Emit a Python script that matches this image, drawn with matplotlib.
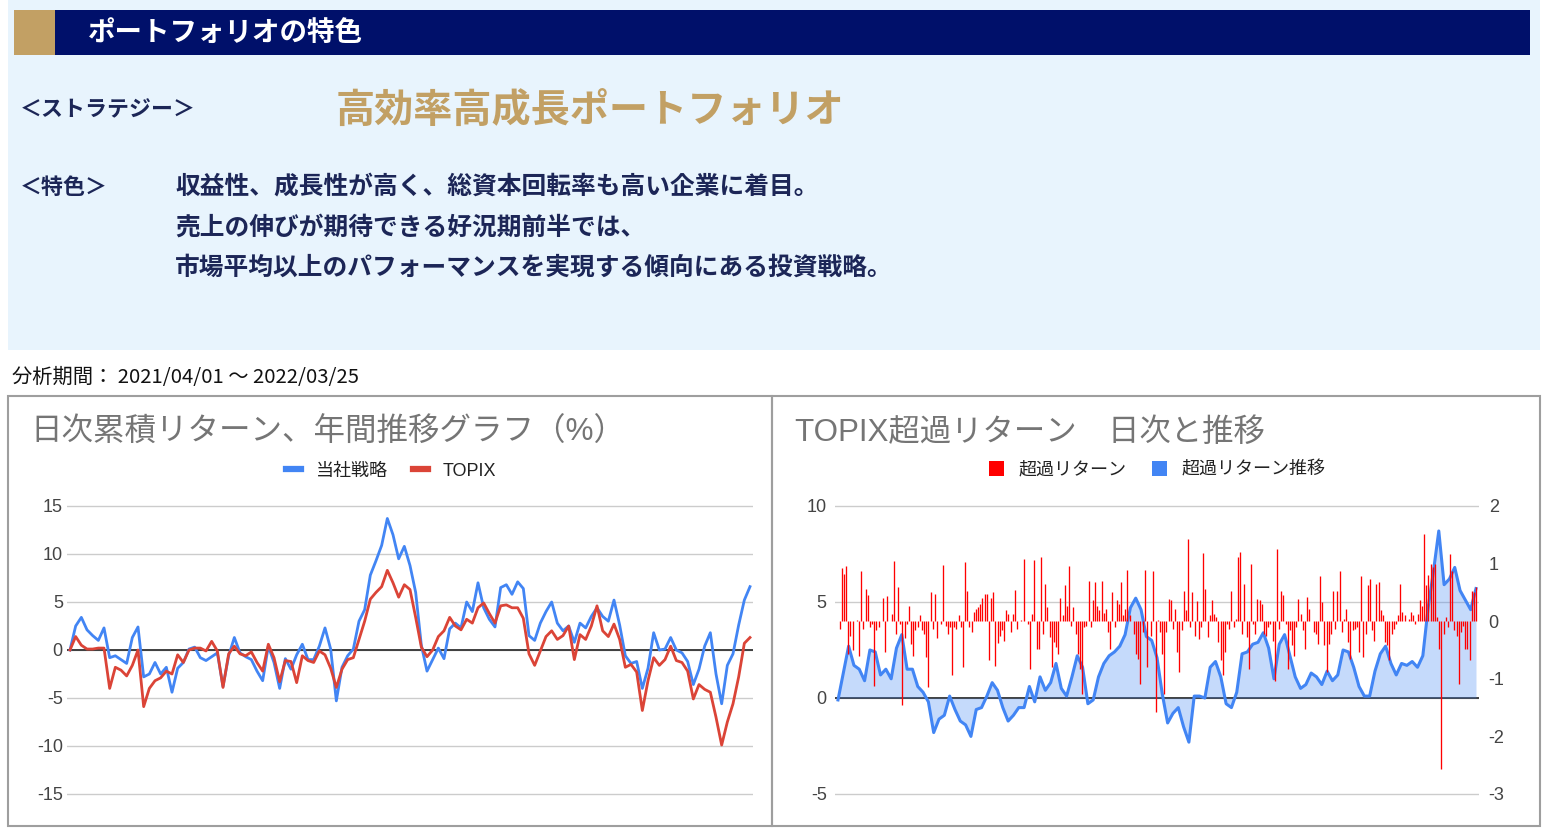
import numpy as np
import matplotlib.pyplot as plt
from matplotlib.patches import Rectangle, Patch
from matplotlib.lines import Line2D

plt.rcParams['font.family'] = ['Liberation Sans', 'Noto Sans CJK JP']
plt.rcParams['axes.unicode_minus'] = False

# ---- data ----
period = '2021/04/01 ～ 2022/03/25'

# cumulative daily return, %, sampled every 2nd trading day
strategy = [0.0, 2.5, 3.4, 2.1, 1.5, 1.0, 2.3, -0.8, -0.6, -1.0,
            -1.4, 1.3, 2.4, -2.8, -2.5, -1.3, -2.5, -1.8, -4.4, -1.9,
            -1.3, 0.1, 0.3, -0.8, -1.1, -0.7, -0.3, -3.8, -0.6, 1.3,
            -0.3, -0.7, -1.0, -2.2, -3.2, 0.4, -1.3, -4.0, -0.9, -2.0,
            -0.5, 0.6, -1.0, -1.0, 0.4, 2.3, 0.1, -5.3, -1.8, -0.6,
            0.1, 3.0, 4.2, 7.8, 9.3, 10.9, 13.7, 12.0, 9.5, 10.8,
            8.8, 6.0, 0.5, -2.2, -1.0, 0.2, -0.9, 2.2, 2.8, 2.3,
            5.0, 4.0, 7.0, 4.4, 3.2, 2.4, 6.5, 6.8, 5.8, 7.1,
            6.4, 1.5, 1.0, 2.8, 4.0, 5.0, 2.8, 2.0, 2.5, 0.8,
            2.8, 2.3, 3.5, 4.4, 3.5, 3.0, 5.2, 2.6, -0.6, -1.4,
            -1.2, -4.0, -1.9, 1.8, 0.0, 0.1, 1.3, 0.0, -0.3, -1.2,
            -3.6, -2.0, 0.4, 1.8, -2.5, -5.6, -1.6, -0.4, 2.6, 5.2,
            6.6]
topix = [0.0, 1.4, 0.5, 0.1, 0.1, 0.2, 0.2, -4.0, -1.8, -2.1,
         -2.7, -1.6, 0.0, -5.9, -4.0, -3.2, -2.9, -2.2, -2.5, -0.5,
         -1.3, 0.0, 0.2, 0.2, -0.1, 0.9, -0.1, -3.9, -0.4, 0.4,
         -0.4, -0.6, -0.2, -1.3, -2.2, 0.6, -0.8, -3.3, -1.1, -1.2,
         -3.4, -0.6, -1.1, -1.3, -0.1, -0.5, -1.9, -3.9, -2.0, -1.0,
         -0.8, 1.1, 3.0, 5.3, 6.0, 6.6, 8.3, 7.0, 5.5, 6.8,
         6.3, 3.4, 0.3, -0.7, 0.0, 1.4, 2.0, 3.4, 2.5, 2.1,
         3.2, 2.8, 4.4, 4.9, 3.8, 2.8, 4.6, 4.7, 4.4, 4.4,
         3.3, -0.4, -1.6, -0.1, 1.4, 2.0, 1.1, 1.5, 2.5, -1.0,
         1.6, 1.1, 2.5, 4.6, 2.0, 1.4, 2.7, 1.1, -1.8, -1.5,
         -2.3, -6.3, -3.2, -0.8, -1.6, -1.0, 0.4, -1.1, -1.3, -2.2,
         -5.1, -3.6, -4.1, -4.4, -7.0, -9.9, -7.5, -5.6, -2.8, 0.7,
         1.3]

# cumulative excess return vs TOPIX (left axis)
excess_cum = [-0.1, 1.3, 2.7, 1.7, 1.5, 0.9, 2.5, 2.4, 1.2, 1.5,
              1.0, 2.6, 3.3, 1.5, 1.5, 0.6, 0.3, -0.2, -1.8, -1.1,
              -0.9, 0.1, -0.6, -1.2, -1.4, -2.0, -0.6, -0.5, 0.1, 0.8,
              0.4, -0.5, -1.2, -0.9, -0.5, -0.5, 0.6, -0.2, 1.1, 0.4,
              0.8, 1.8, 0.5, 0.1, 1.1, 2.2, 1.6, -0.3, -0.1, 1.1,
              1.8, 2.2, 2.4, 2.7, 3.3, 4.7, 5.2, 4.6, 3.2, 3.0,
              2.1, 0.2, -1.3, -0.8, -0.5, -1.5, -2.3, 0.1, 0.1, 0.0,
              1.6, 1.9, 1.1, -0.3, -0.5, 0.3, 2.3, 2.4, 2.8, 2.9,
              3.4, 2.6, 1.0, 2.8, 3.3, 2.2, 1.1, 0.5, 0.7, 1.3,
              1.1, 0.7, 1.4, 0.9, 1.2, 2.5, 2.4, 1.6, 0.6, 0.1,
              0.1, 1.4, 2.3, 2.7, 1.8, 1.2, 1.8, 1.7, 1.9, 1.6,
              2.2, 4.7, 6.6, 8.7, 5.9, 6.2, 6.8, 5.6, 5.1, 4.6,
              5.7]

# daily excess return (right axis)
excess_daily = [
    -0.13, 0.92, 0.82, 0.95, -0.57, -0.25, -0.5, 0.01, 0.02, -0.6,
    0.88, -0.13, 0.56, 0.45, -0.1, -0.05, -1.12, -0.16, -0.1, 0.01,
    0.4, -0.54, 0.43, 0.01, 0.13, 1.05, -0.22, 0.59, -0.05, -1.46,
    -0.3, -0.05, 0.27, -0.39, -0.61, -0.16, -0.1, 0.1, -0.16, -0.22,
    -0.63, -1.15, 0.5, -0.13, 0.47, -0.3, 0.01, -0.05, 0.98, -0.08,
    -0.22, -0.1, -0.94, -0.1, -0.13, 0.1, -0.1, -0.8, 1.02, 0.52,
    -0.1, -0.19, 0.16, 0.21, 0.24, 0.3, 0.4, 0.48, 0.48, -0.68,
    0.4, 0.5, -0.77, -0.37, -0.25, -0.16, -0.34, 0.2, 0.13, -0.19,
    0.13, 0.54, -0.13, 0.01, 0.02, 1.08, 0.01, -0.05, -0.83, 0.13,
    1.06, -0.48, -0.48,
    1.11, -0.22, 0.65, 0.24, -0.28, -0.8, -0.36, -0.45, -0.57, 0.4,
    0.1, 0.62, 0.27, 0.95, -0.08, 0.24, -0.22, -0.57, -0.83, -1.26,
    -0.1, -0.08, 0.7, -0.1, 0.36, 0.68, 0.27, 0.19, 0.7, 0.14,
    0.21, -0.19, -0.48, 0.5, -0.1, 0.36, 0.3, 0.68, 0.1, 0.21,
    0.89, 0.1, 0.01, -0.22, -0.57, -0.65, -1.09, -0.19, 0.89, -0.8,
    0.01, -0.25, 0.87, -1.58, 0.02, -0.19, -0.57, -1.26, -0.19, 0.39,
    0.36, -0.13, 0.21, -0.54, -0.89, -0.16, 0.53, 0.2, 1.43, -0.1,
    0.5, -0.25, 0.35, -0.31, -0.1, 1.18, 0.56, -0.28, 0.1, 0.36,
    0.13, 0.07, -0.36, -0.68, -0.94, -0.54, -0.05, -0.13, 0.52, -0.1,
    0.04, 1.11, 1.2, -0.22, 0.65, -0.28, -0.83, 1.0, -0.05, -0.22,
    0.39, 0.36,
    0.3, -0.22, -0.25, -0.1, -0.05, -0.34, -1.03, 1.26, -0.13, 0.53,
    0.45, -0.05, -0.83, -0.16, -0.42, -0.6, -0.1, 0.39, 0.13, -0.16,
    -0.48, 0.42, 0.21, 0.01, -0.19, -0.22, -0.39, 0.79, 0.33, -0.42,
    -0.89, -0.39, -0.22, 0.52, -0.13, 0.53, 0.88, -0.19, 0.04, 0.21,
    -0.36, -0.65, -0.16, -0.13, -0.1, -0.54, 0.79, -0.63, -0.22, 0.62,
    0.73, -0.16, -0.34, 0.65, 0.68, 0.19, 0.1, -0.36, -0.42, -0.68,
    -0.22, -0.13, -0.05, 0.1, 0.64, 0.16, 0.1, 0.01, 0.04, 0.16,
    0.1, -0.05, 0.13, 0.36, 0.27, 1.52, 0.62, 0.81, 1.0, 0.94,
    1.0, 0.07, -0.48, -2.56, -0.22, 0.07, -0.1, 1.17, 0.88, -0.16,
    -0.25, -1.09, -0.19, -0.08, -0.48, -0.48, -0.68, 0.53, 0.5, 0.59]

left_ticks = [-15, -10, -5, 0, 5, 10, 15]
right_ticks_l = [-5, 0, 5, 10]
right_ticks_r = [-3, -2, -1, 0, 1, 2]

# ---- colours ----
BLUE = '#4285F4'
RED_LINE = '#DB4437'
RED_BAR = '#FF0000'
NAVY = '#00106A'
GOLD = '#C2A064'
TXT = '#1C2657'
PANEL = '#E8F4FD'
GREY_T = '#757575'
TICK = '#444444'

W, H = 1547, 833
fig = plt.figure(figsize=(W / 100, H / 100), dpi=100)


def fx(x):
    return x / W


def fy(y):
    return 1 - y / H


def rect_px(x0, y0, x1, y1, **kw):
    fig.patches.append(Rectangle((fx(x0), fy(y1)), (x1 - x0) / W, (y1 - y0) / H,
                                 transform=fig.transFigure, figure=fig, **kw))


def place(xp, yp, xd, yd, pad=3):
    # xp = (px of xd[0], px of xd[1]); yp = (px of yd[0], px of yd[1])
    sx = (xp[1] - xp[0]) / (xd[1] - xd[0])
    sy = (yp[0] - yp[1]) / (yd[1] - yd[0])
    x0, x1 = xp[0] - pad, xp[1] + pad
    y0, y1 = yp[1] - pad, yp[0] + pad
    ax = fig.add_axes([fx(x0), fy(y1), (x1 - x0) / W, (y1 - y0) / H])
    ax.set_xlim(xd[0] - pad / sx, xd[1] + pad / sx)
    ax.set_ylim(yd[0] - pad / sy, yd[1] + pad / sy)
    return ax, sy


# ---- top information panel ----
rect_px(8, 0, 1540, 350, facecolor=PANEL, edgecolor='none', zorder=0)
rect_px(14, 10, 1530, 55, facecolor=NAVY, edgecolor='none', zorder=1)
rect_px(14, 10, 55, 55, facecolor=GOLD, edgecolor='none', zorder=2)

jp = ['Noto Sans CJK JP', 'DejaVu Sans']
fig.text(fx(88), fy(33), 'ポートフォリオの特色', color='white', fontsize=19.8,
         fontweight='bold', family=jp, va='center', ha='left')
fig.text(fx(20), fy(110), '＜ストラテジー＞', color=TXT, fontsize=15.8,
         fontweight='bold', family=jp, va='center', ha='left')
fig.text(fx(336), fy(110), '高効率高成長ポートフォリオ', color=GOLD, fontsize=28.2,
         fontweight='bold', family=jp, va='center', ha='left')
fig.text(fx(20), fy(187), '＜特色＞', color=TXT, fontsize=15.8,
         fontweight='bold', family=jp, va='center', ha='left')
lines = ['収益性、成長性が高く、総資本回転率も高い企業に着目。',
         '売上の伸びが期待できる好況期前半では、',
         '市場平均以上のパフォーマンスを実現する傾向にある投資戦略。']
for t, yy in zip(lines, [187, 228, 268]):
    fig.text(fx(175), fy(yy), t, color=TXT, fontsize=17.8, fontweight='bold',
             family=jp, va='center', ha='left')

fig.text(fx(12), fy(377), '分析期間： ' + period, color='#111111', fontsize=14.6,
         family=jp, va='center', ha='left')

# chart frames
rect_px(8, 396, 772, 826, facecolor='none', edgecolor='#9E9E9E', lw=1.5)
rect_px(772, 396, 1540, 826, facecolor='none', edgecolor='#9E9E9E', lw=1.5)

# ---- left chart: cumulative return ----
n = len(strategy)
x = np.arange(n)
ax, _ = place((70, 750), (794, 506), (0, n - 1), (-15, 15))
ax.set_yticks(left_ticks)
ax.grid(axis='y', color='#CCCCCC', lw=1)
ax.set_axisbelow(True)
ax.axhline(0, color='#333333', lw=1.3, zorder=2)
ax.plot(x, strategy, color=BLUE, lw=2.0, zorder=3, solid_joinstyle='round')
ax.plot(x, topix, color=RED_LINE, lw=2.0, zorder=4, solid_joinstyle='round')
ax.set_xticks([])
ax.tick_params(axis='y', length=0, pad=3, labelsize=13, labelcolor=TICK)
for s in ax.spines.values():
    s.set_visible(False)

fig.text(fx(30), fy(433), '日次累積リターン、年間推移グラフ（%）', color=GREY_T,
         fontsize=22.7, va='center', ha='left')
h1 = [Line2D([], [], color=BLUE, lw=4.5), Line2D([], [], color=RED_LINE, lw=4.5)]
fig.legend(h1, ['当社戦略', 'TOPIX'], loc='center', bbox_to_anchor=(fx(391), fy(471)),
           ncol=2, frameon=False, fontsize=13, handlelength=0.85, handletextpad=0.8,
           columnspacing=1.4, labelcolor='#222222')

# ---- right chart: excess return ----
axr, _ = place((838, 1476), (794, 506), (0, n - 1), (-5, 10))
axr.set_yticks(right_ticks_l)
axr.grid(axis='y', color='#CCCCCC', lw=1)
axr.set_axisbelow(True)
axr.axhline(0, color='#333333', lw=1.3, zorder=2)
axr.fill_between(x, excess_cum, 0, color=BLUE, alpha=0.3, lw=0, zorder=3)
axr.plot(x, excess_cum, color=BLUE, lw=2.2, zorder=4, solid_joinstyle='round')
axr.set_xticks([])
axr.tick_params(axis='y', length=0, pad=6, labelsize=13, labelcolor=TICK)
for s in axr.spines.values():
    s.set_visible(False)

ax2 = axr.twinx()
sy2 = 288 / 5
ax2.set_ylim(-3 - 3 / sy2, 2 + 3 / sy2)
ax2.set_yticks(right_ticks_r)
xb = np.linspace(0.3, n - 1, len(excess_daily))
ax2.vlines(xb, 0, excess_daily, color=RED_BAR, lw=0.95, zorder=5)
ax2.tick_params(axis='y', length=0, pad=7, labelsize=13, labelcolor=TICK)
for s in ax2.spines.values():
    s.set_visible(False)

fig.text(fx(795), fy(433), 'TOPIX超過リターン　日次と推移', color=GREY_T,
         fontsize=22.6, va='center', ha='left')
h2 = [Patch(facecolor=RED_BAR), Patch(facecolor=BLUE)]
fig.legend(h2, ['超過リターン', '超過リターン推移'], loc='center',
           bbox_to_anchor=(fx(1157), fy(470)), ncol=2, frameon=False, fontsize=13,
           handlelength=0.85, handleheight=0.85, handletextpad=0.8,
           columnspacing=1.4, labelcolor='#222222')

fig.savefig('out.png', dpi=100, facecolor='white')
